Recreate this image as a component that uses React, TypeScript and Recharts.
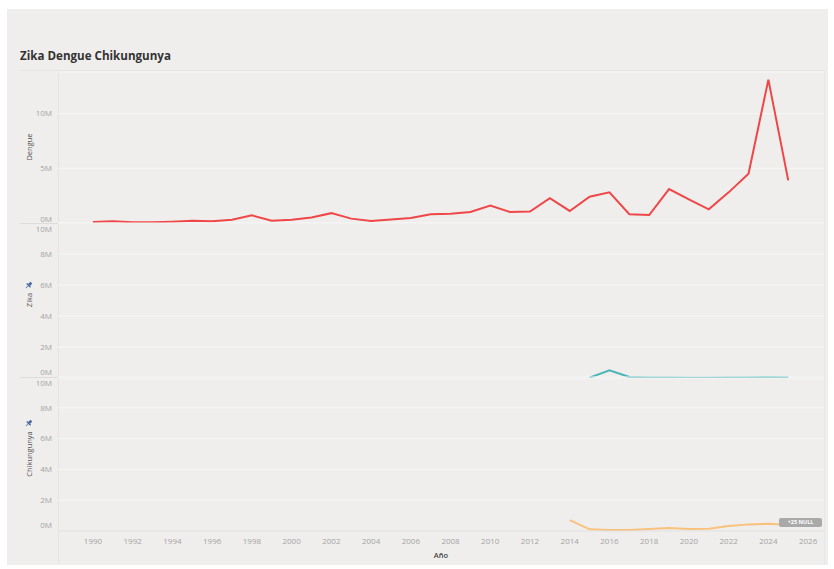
import React from "react";
import { LineChart, Line, XAxis, YAxis, CartesianGrid } from "recharts";

const years = [
  1990, 1991, 1992, 1993, 1994, 1995, 1996, 1997, 1998, 1999, 2000, 2001, 2002, 2003, 2004, 2005, 2006, 2007,
  2008, 2009, 2010, 2011, 2012, 2013, 2014, 2015, 2016, 2017, 2018, 2019, 2020, 2021, 2022, 2023, 2024, 2025,
];

// millones de casos
const dengue = [
  0.1, 0.15, 0.07, 0.07, 0.12, 0.2, 0.15, 0.3, 0.7, 0.2, 0.3, 0.5, 0.9, 0.4, 0.18, 0.33, 0.45, 0.8, 0.85, 1.0,
  1.6, 1.0, 1.05, 2.27, 1.1, 2.4, 2.8, 0.8, 0.73, 3.1, 2.15, 1.25, 2.8, 4.5, 13.1, 3.9,
];
const zikaYears = [2015, 2016, 2017, 2018, 2019, 2020, 2021, 2022, 2023, 2024, 2025];
const zika = [0.02, 0.5, 0.06, 0.04, 0.03, 0.02, 0.02, 0.03, 0.04, 0.05, 0.04];
const chikYears = [2014, 2015, 2016, 2017, 2018, 2019, 2020, 2021, 2022, 2023, 2024, 2025];
const chik = [0.71, 0.11, 0.06, 0.06, 0.13, 0.19, 0.13, 0.15, 0.32, 0.43, 0.47, 0.39];

const xTicks = [1990, 1992, 1994, 1996, 1998, 2000, 2002, 2004, 2006, 2008, 2010, 2012, 2014, 2016, 2018, 2020, 2022, 2024, 2026];
const dengueTicks = [0, 5e6, 10e6];
const smallTicks = [0, 2e6, 4e6, 6e6, 8e6, 10e6];

const data = years.map((y, i) => {
  const zi = zikaYears.indexOf(y);
  const ci = chikYears.indexOf(y);
  return {
    year: y,
    dengue: dengue[i] * 1e6,
    zika: zi >= 0 ? zika[zi] * 1e6 : null,
    chik: ci >= 0 ? chik[ci] * 1e6 : null,
  };
});

const FONT = "'Open Sans', sans-serif";
const BG = "#efeeed";
const X_DOMAIN: [number, number] = [1988.24, 2026.8];
const W = 834;

const fmtM = (v: number) => `${Math.round(v / 1e6)}M`;

function makeTick(shifts: Record<number, number>) {
  return (props: any) => {
    const { x, y, payload } = props;
    return (
      <text
        x={x}
        y={y + (shifts[payload.value] || 0)}
        dy="0.355em"
        textAnchor="end"
        fontSize={8}
        fontFamily={FONT}
        fill="#a3a3a3"
      >
        {fmtM(payload.value)}
      </text>
    );
  };
}

function Pin({ left, top }: { left: number; top: number }) {
  return (
    <svg width={9} height={9} style={{ position: "absolute", left, top }} viewBox="0 0 10 10">
      <g transform="rotate(45 5 5)" fill="#4a6aa0">
        <rect x={3.5} y={0.5} width={3} height={4} rx={0.5} />
        <rect x={2} y={4} width={6} height={1.5} />
        <rect x={4.6} y={5.5} width={0.8} height={3.5} />
      </g>
    </svg>
  );
}

function AxisTitle({ text, cx, cy }: { text: string; cx: number; cy: number }) {
  return (
    <div
      style={{
        position: "absolute",
        left: cx - 50,
        top: cy - 6,
        width: 100,
        height: 12,
        lineHeight: "12px",
        textAlign: "center",
        transform: "rotate(-90deg)",
        fontSize: 7.5,
        fontFamily: FONT,
        color: "#505050",
      }}
    >
      {text}
    </div>
  );
}

function Panel(props: {
  top: number;
  height: number;
  dataKey: string;
  color: string;
  yMax: number;
  ticks: number[];
  shifts: Record<number, number>;
  withX?: boolean;
}) {
  const { top, height, dataKey, color, yMax, ticks, shifts, withX } = props;
  return (
    <div style={{ position: "absolute", left: 0, top }}>
      <LineChart width={W - 10} height={height} data={data} margin={{ top: 10, right: 0, bottom: withX ? 0 : 10, left: 0 }}>
        <CartesianGrid horizontal vertical={false} stroke="#f7f7f6" strokeWidth={1} />
        <XAxis
          dataKey="year"
          type="number"
          domain={X_DOMAIN}
          ticks={xTicks}
          allowDataOverflow
          hide={!withX}
          axisLine={{ stroke: "#dddddd" }}
          tickLine={false}
          tick={{ fontSize: 8, fill: "#a3a3a3", fontFamily: FONT }}
          tickMargin={1}
          height={34}
          label={{ value: "Año", position: "insideBottom", offset: 7, fontSize: 7.5, fill: "#444", fontFamily: FONT, fontWeight: 600 }}
        />
        <YAxis
          type="number"
          domain={[0, yMax]}
          ticks={ticks}
          allowDataOverflow
          width={58}
          axisLine={false}
          tickLine={false}
          tickSize={4}
          tickMargin={2}
          tick={makeTick(shifts)}
        />
        <Line
          type="linear"
          dataKey={dataKey}
          stroke={color}
          strokeWidth={2}
          dot={false}
          isAnimationActive={false}
          connectNulls={false}
        />
      </LineChart>
    </div>
  );
}

export default function App() {
  return (
    <div style={{ position: "absolute", left: 0, top: 0, width: W, height: 569, background: "#fff", overflow: "hidden" }}>
      <div style={{ position: "absolute", left: 7, top: 9, width: 821, height: 556, background: BG }} />
      <div
        style={{
          position: "absolute",
          left: 20,
          top: 48,
          fontFamily: FONT,
          fontWeight: 700,
          fontSize: 11.6,
          color: "#333",
          lineHeight: "16px",
          whiteSpace: "nowrap",
        }}
      >
        Zika Dengue Chikungunya
      </div>
      {/* separadores */}
      <div style={{ position: "absolute", left: 20, top: 70, width: 804, height: 1, background: "#e6e5e4" }} />
      <div style={{ position: "absolute", left: 58, top: 70, width: 1, height: 494, background: "#e4e3e2" }} />
      <div style={{ position: "absolute", left: 824, top: 70, width: 1, height: 494, background: "#e8e7e6" }} />
      <div style={{ position: "absolute", left: 20, top: 223, width: 804, height: 1, background: "#dedddc" }} />
      <div style={{ position: "absolute", left: 20, top: 377, width: 804, height: 1, background: "#dedddc" }} />

      <Panel top={62} height={171} dataKey="dengue" color="#ef4747" yMax={13.8e6} ticks={dengueTicks} shifts={{ 0: -4 }} />
      <Panel top={213} height={175} dataKey="zika" color="#4bb4b6" yMax={10e6} ticks={smallTicks} shifts={{ 0: -6, 10000000: 6 }} />
      <Panel
        top={367}
        height={198}
        dataKey="chik"
        color="#f9c27c"
        yMax={10e6}
        ticks={smallTicks}
        shifts={{ 0: -6, 10000000: 6 }}
        withX
      />

      <AxisTitle text="Dengue" cx={29} cy={147} />
      <AxisTitle text="Zika" cx={29} cy={300} />
      <Pin left={24} top={281} />
      <AxisTitle text="Chikungunya" cx={29} cy={454} />
      <Pin left={24} top={419} />

      <div
        style={{
          position: "absolute",
          left: 779,
          top: 518,
          width: 43,
          height: 9,
          borderRadius: 2,
          background: "#a9a9a9",
          color: "#fff",
          fontFamily: FONT,
          fontSize: 5.5,
          fontWeight: 700,
          lineHeight: "9px",
          textAlign: "center",
        }}
      >
        +25 NULL
      </div>
    </div>
  );
}
